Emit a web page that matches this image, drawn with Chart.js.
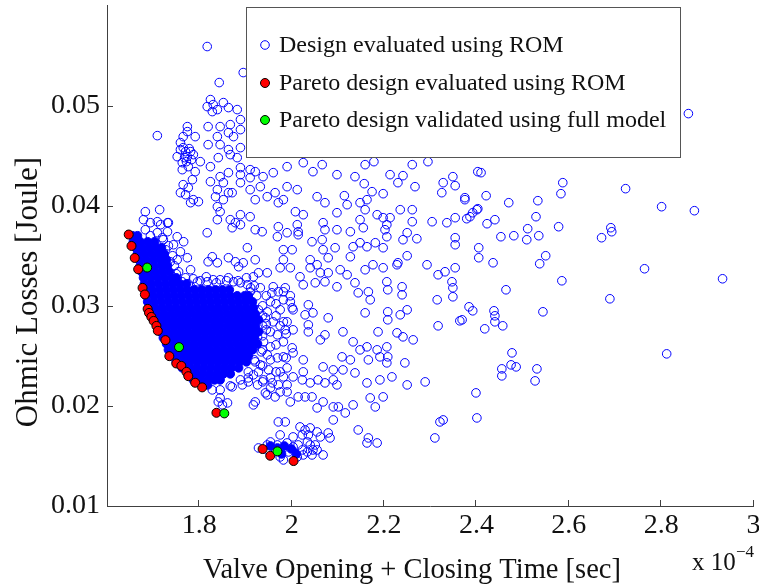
<!DOCTYPE html>
<html>
<head>
<meta charset="utf-8">
<script src="https://cdn.jsdelivr.net/npm/chart.js@4.4.1/dist/chart.umd.min.js"></script>
<style>
  html, body { margin: 0; padding: 0; background: #ffffff; }
  #wrap { width: 759px; height: 588px; }
</style>
</head>
<body>
<div id="wrap"><canvas id="chart" width="759" height="588"></canvas></div>
<script>
// Valve opening + closing time is given in units of 1e-4 s, ohmic losses in J.

const timeTicks = [1.8, 2.0, 2.2, 2.4, 2.6, 2.8, 3.0];
const timeTickLabels = ['1.8', '2', '2.2', '2.4', '2.6', '2.8', '3'];
const lossTicks = [0.01, 0.02, 0.03, 0.04, 0.05];
const lossTickLabels = ['0.01', '0.02', '0.03', '0.04', '0.05'];

const seriesLabels = [
  'Design evaluated using ROM',
  'Pareto design evaluated using ROM',
  'Pareto design validated using full model'
];

// ROM designs: upper-left group
const romUpper = [
  [1.817,0.0559],[1.843,0.0523],[1.895,0.0533],[1.709,0.0470],
  [1.824,0.0506],[1.830,0.0501],[1.817,0.0499],[1.839,0.0496],[1.828,0.0494],[1.852,0.0503],[1.863,0.0498],[1.882,0.0496],
  [1.889,0.0486],[1.867,0.0481],[1.845,0.0479],[1.819,0.0479],[1.774,0.0479],[1.774,0.0474],[1.791,0.0469],[1.765,0.0469],
  [1.839,0.0469],[1.863,0.0473],[1.874,0.0469],[1.889,0.0476],[1.845,0.0461],[1.819,0.0461],[1.863,0.0456],[1.889,0.0458],
  [1.867,0.0451],[1.882,0.0448],[1.841,0.0448],[1.802,0.0444],[1.824,0.0439],
  [1.759,0.0463],[1.765,0.0458],[1.752,0.0449],[1.781,0.0454],[1.787,0.0451],[1.774,0.0449],[1.763,0.0443],[1.776,0.0439],
  [1.791,0.0434],[1.763,0.0436],[1.785,0.0426],[1.765,0.0421],[1.776,0.0418],[1.759,0.0413],[1.770,0.0411],[1.787,0.0406],
  [1.781,0.0403],[1.798,0.0404],
  [1.770,0.0454],[1.778,0.0457],[1.768,0.0448],[1.783,0.0446],[1.772,0.0444],[1.759,0.0456],
  [1.824,0.0424],[1.845,0.0429],[1.863,0.0433],[1.889,0.0438],[1.889,0.0431],[1.910,0.0436],[1.910,0.0428],[1.921,0.0434],
  [1.938,0.0429],[1.960,0.0433],[1.990,0.0439],[2.025,0.0443],[2.046,0.0434],[2.066,0.0441],[2.098,0.0431],
  [1.839,0.0416],[1.852,0.0423],[1.863,0.0413],[1.871,0.0413],[1.835,0.0409],[1.852,0.0406],[1.839,0.0399],[1.845,0.0394],
  [1.839,0.0386],
  [1.889,0.0423],[1.910,0.0416],[1.932,0.0419],[1.921,0.0406],[1.947,0.0409],[1.964,0.0413],[1.990,0.0419],[2.012,0.0416],
  [1.982,0.0406],[1.971,0.0403],[2.008,0.0394],[2.025,0.0391],[2.055,0.0409],[2.072,0.0403],[2.098,0.0393],
  [1.683,0.0394],[1.714,0.0396],[1.694,0.0383],[1.716,0.0381],[1.731,0.0383],[1.889,0.0391],[1.910,0.0389],[1.867,0.0386]
];

// ROM designs: fringe of the main cloud
const romFringe = [
  [1.679,0.0386],[1.709,0.0384],[1.733,0.0383],[1.683,0.0376],[1.709,0.0373],[1.731,0.0374],[1.752,0.0369],[1.744,0.0361],
  [1.766,0.0364],[1.759,0.0354],[1.752,0.0346],[1.774,0.0348],[1.781,0.0336],[1.755,0.0334],[1.770,0.0328],[1.817,0.0373],
  [1.819,0.0344],[1.839,0.0343],[1.828,0.0349],[1.863,0.0348],[1.878,0.0344],[1.885,0.0339],[1.871,0.0378],[1.878,0.0383],
  [1.796,0.0324],[1.817,0.0324],[1.845,0.0326],[1.874,0.0324],[1.904,0.0321],[1.932,0.0318],[1.957,0.0313],[1.971,0.0314],
  [1.954,0.0304],[1.982,0.0306],[1.947,0.0294],[1.960,0.0284],[1.990,0.0284],[1.954,0.0274],[1.969,0.0271],[1.939,0.0264],
  [1.954,0.0259],[1.982,0.0264],[1.947,0.0251],[1.969,0.0248],[1.932,0.0241],[1.950,0.0236],[1.917,0.0231],[1.939,0.0226],
  [1.926,0.0221],[1.906,0.0224],[1.893,0.0221],[1.871,0.0219],[1.845,0.0216],[1.954,0.0218],[1.975,0.0214],[1.990,0.0221],
  [1.990,0.0238],[1.982,0.0229],[1.947,0.0211],[1.845,0.0208],
  [1.924,0.0310],[1.937,0.0300],[1.943,0.0288],[1.945,0.0276],[1.934,0.0254],[1.921,0.0244],[1.906,0.0234],[1.889,0.0226],
  [1.867,0.0220],[1.828,0.0216],[1.776,0.0322],[1.802,0.0325],[1.830,0.0326],[1.859,0.0325],[1.911,0.0318],[1.694,0.0370],
  [1.720,0.0368],[1.733,0.0360],[1.742,0.0350],[1.746,0.0340],[1.910,0.0314],[1.937,0.0280],[1.926,0.0269],
  [1.986,0.0318],[1.945,0.0310],[1.997,0.0310],[1.966,0.0302],[2.001,0.0298],[1.928,0.0296],[1.975,0.0296],[1.937,0.0290],
  [1.966,0.0290],[1.945,0.0282],[1.975,0.0280],[1.926,0.0278],[1.937,0.0270],[1.988,0.0272],[1.924,0.0261],[1.966,0.0261],
  [2.001,0.0258],[1.937,0.0256],[1.919,0.0246],[1.954,0.0246],[1.988,0.0248],[1.937,0.0240],[1.928,0.0234],[1.966,0.0234],
  [1.906,0.0228],[1.954,0.0228],[2.003,0.0229],
  [1.763,0.0324],[1.787,0.0327],[1.815,0.0329],[1.837,0.0323],[1.863,0.0328],[1.884,0.0325],[1.902,0.0328],[1.919,0.0320],
  [1.727,0.0356],[1.737,0.0344],[1.750,0.0332],[1.722,0.0366]
];

// ROM designs: middle spread
const romMiddle = [
  [2.159,0.0441],[2.178,0.0444],[2.137,0.0429],[2.213,0.0431],[2.241,0.0430],[2.261,0.0441],[2.295,0.0444],[2.267,0.0419],
  [2.230,0.0423],[2.157,0.0422],[2.198,0.0412],[2.328,0.0423],[2.325,0.0413],[2.349,0.0429],[2.354,0.0420],[2.375,0.0408],
  [2.403,0.0434],
  [2.114,0.0410],[2.120,0.0401],[2.148,0.0403],[2.163,0.0406],[2.159,0.0396],[2.174,0.0414],[2.185,0.0391],[2.198,0.0388],
  [2.213,0.0388],[2.235,0.0396],[2.261,0.0396],[2.148,0.0386],[2.206,0.0381],[2.304,0.0384],[2.336,0.0383],[2.354,0.0388],
  [2.386,0.0389],[2.401,0.0396],
  [1.889,0.0381],[1.921,0.0376],[1.936,0.0374],[1.971,0.0379],[2.012,0.0381],[2.014,0.0374],[2.068,0.0383],[2.072,0.0376],
  [2.098,0.0376],[2.127,0.0374],[2.155,0.0378],[2.202,0.0376],[2.206,0.0369],[2.250,0.0373],[2.261,0.0384],[2.271,0.0367],
  [2.241,0.0366],
  [1.969,0.0369],[1.990,0.0373],[2.014,0.0371],[2.044,0.0364],[2.066,0.0366],[2.068,0.0356],[2.094,0.0358],[2.133,0.0359],
  [2.148,0.0363],[2.163,0.0359],[2.181,0.0363],[2.198,0.0358],[2.127,0.0349],[2.079,0.0348],[2.040,0.0346],[2.055,0.0341],
  [1.982,0.0356],[2.001,0.0356],[1.982,0.0346],[1.904,0.0358],[1.895,0.0343],[1.921,0.0346],[2.230,0.0343],[2.250,0.0350],
  [2.293,0.0341],[2.354,0.0368],[2.354,0.0361],
  [1.975,0.0338],[1.997,0.0338],[2.040,0.0338],[2.062,0.0333],[2.079,0.0333],[2.105,0.0336],[2.120,0.0331],[2.159,0.0336],
  [2.176,0.0341],[2.198,0.0338],[2.228,0.0341],[1.889,0.0323],[1.917,0.0329],[1.928,0.0333],[1.947,0.0333],[2.018,0.0329],
  [2.025,0.0321],[2.051,0.0323],[2.072,0.0324],[2.098,0.0319],[2.137,0.0323],[2.144,0.0313],[2.166,0.0314],[2.170,0.0306],
  [2.206,0.0324],[2.208,0.0316],[2.239,0.0319],[2.239,0.0311],[2.317,0.0331],[2.332,0.0334],[2.354,0.0338],[2.347,0.0324],
  [2.349,0.0318],[2.349,0.0309],[2.315,0.0306],
  [1.960,0.0319],[1.982,0.0314],[1.997,0.0304],[2.003,0.0296],[2.036,0.0301],[2.046,0.0293],[2.029,0.0291],[2.079,0.0288],
  [2.036,0.0281],[1.982,0.0284],[1.986,0.0276],[2.003,0.0276],[2.036,0.0274],[2.062,0.0266],[2.072,0.0271],[2.111,0.0274],
  [2.133,0.0264],[2.159,0.0293],[2.187,0.0274],[2.208,0.0294],[2.235,0.0291],[2.250,0.0296],[2.208,0.0286],[2.228,0.0273],
  [2.241,0.0269],[2.263,0.0266],[2.317,0.0280],[2.364,0.0285],[2.163,0.0259],
  [2.206,0.0259],[2.208,0.0249],[2.185,0.0256],[2.191,0.0249],[2.148,0.0256],[2.166,0.0246],[2.127,0.0246],[2.109,0.0249],
  [2.111,0.0236],[2.090,0.0236],[2.068,0.0239],[2.025,0.0246],[2.025,0.0234],[2.003,0.0253],[1.982,0.0249],[1.975,0.0234],
  [2.023,0.0226],[2.040,0.0223],[2.057,0.0226],[2.072,0.0223],[2.090,0.0226],[2.098,0.0221],[2.137,0.0233],[2.163,0.0223],
  [2.191,0.0226],[2.217,0.0229],[2.250,0.0221],[2.289,0.0224],[2.245,0.0243],[2.206,0.0243],
  [1.937,0.0224],[1.958,0.0223],[1.971,0.0221],[1.943,0.0213],[1.964,0.0209],[1.990,0.0214],[1.997,0.0204],[2.014,0.0209],
  [2.029,0.0209],[2.044,0.0209],[2.068,0.0204],[2.055,0.0198],[2.090,0.0199],[2.101,0.0199],[2.116,0.0193],[2.133,0.0201],
  [2.170,0.0208],[2.181,0.0199],[2.198,0.0209],[1.921,0.0204],[1.917,0.0201],[2.321,0.0184],[2.328,0.0186]
];

// ROM designs: long-time tail
const romTail = [
  [2.859,0.0492],[2.410,0.0433],[2.587,0.0423],[2.583,0.0412],[2.723,0.0417],[2.375,0.0406],[2.421,0.0410],[2.470,0.0403],
  [2.533,0.0405],[2.801,0.0399],[2.872,0.0395],[2.403,0.0397],[2.392,0.0393],[2.379,0.0387],[2.423,0.0382],[2.440,0.0386],
  [2.529,0.0389],[2.511,0.0377],[2.578,0.0379],[2.691,0.0378],[2.693,0.0374],[2.671,0.0368],[2.453,0.0369],[2.481,0.0370],
  [2.509,0.0366],[2.535,0.0370],[2.405,0.0358],[2.405,0.0348],[2.436,0.0343],[2.550,0.0350],[2.537,0.0342],[2.764,0.0337],
  [2.933,0.0327],[2.585,0.0325],[2.464,0.0316],[2.689,0.0307],[2.384,0.0299],[2.392,0.0295],[2.369,0.0286],[2.438,0.0295],
  [2.440,0.0290],[2.440,0.0284],[2.457,0.0280],[2.418,0.0277],[2.544,0.0294],[2.477,0.0253],[2.455,0.0237],[2.455,0.0230],
  [2.475,0.0241],[2.486,0.0239],[2.531,0.0237],[2.527,0.0225],[2.812,0.0252],[2.399,0.0213],[2.401,0.0188]
];

// ROM designs: low-loss groups
const romLower = [
  [1.841,0.0204],[1.861,0.0203],[1.850,0.0201],
  [1.971,0.0184],[1.986,0.0184],[2.018,0.0179],[2.029,0.0176],[2.040,0.0178],[2.023,0.0171],[2.036,0.0171],[2.055,0.0174],
  [2.062,0.0169],[2.079,0.0173],[2.083,0.0168],[2.068,0.0151],[2.046,0.0156],[2.040,0.0161],[1.982,0.0146],[2.012,0.0149],
  [2.025,0.0151],[1.954,0.0164],[1.969,0.0161],[1.947,0.0161],[1.990,0.0163],[2.003,0.0159],[2.014,0.0161],[2.034,0.0164],
  [2.051,0.0161],[2.055,0.0156],[1.975,0.0149],[1.993,0.0154],[1.980,0.0157],[1.947,0.0156],[2.023,0.0156],[2.034,0.0154],
  [2.044,0.0151],[1.928,0.0158],[2.090,0.0186],[2.144,0.0176],[2.166,0.0168],[2.163,0.0163],[2.185,0.0163],[2.310,0.0168],
  [2.003,0.0169],[1.975,0.0171]
];

// ROM designs packed so tightly that their markers merge: [loss, [times...]]
const romDenseRows = [
  [0.0370, [1.655,1.666]],
  [0.0364, [1.657,1.672,1.688,1.703]],
  [0.0358, [1.662,1.677,1.692,1.707,1.718]],
  [0.0352, [1.666,1.681,1.696,1.711,1.724]],
  [0.0346, [1.670,1.685,1.701,1.716,1.729]],
  [0.0340, [1.672,1.688,1.703,1.718,1.731]],
  [0.0334, [1.675,1.690,1.705,1.720,1.735]],
  [0.0328, [1.679,1.694,1.709,1.724,1.740,1.750]],
  [0.0322, [1.681,1.696,1.711,1.727,1.742,1.757,1.772]],
  [0.0316, [1.683,1.698,1.714,1.729,1.744,1.759,1.774,1.789,1.805,1.820,1.835,1.850,1.865]],
  [0.0310, [1.685,1.701,1.716,1.731,1.746,1.761,1.776,1.792,1.807,1.822,1.837,1.852,1.867,1.882,1.898,1.906]],
  [0.0304, [1.688,1.703,1.718,1.733,1.748,1.763,1.779,1.794,1.809,1.824,1.839,1.854,1.869,1.885,1.900,1.915]],
  [0.0298, [1.690,1.705,1.720,1.735,1.750,1.766,1.781,1.796,1.811,1.826,1.841,1.856,1.872,1.887,1.902,1.917]],
  [0.0292, [1.694,1.709,1.724,1.740,1.755,1.770,1.785,1.800,1.815,1.831,1.845,1.861,1.876,1.891,1.906,1.921]],
  [0.0286, [1.701,1.716,1.731,1.746,1.761,1.776,1.792,1.807,1.822,1.837,1.852,1.867,1.882,1.898,1.913,1.928]],
  [0.0280, [1.709,1.724,1.740,1.755,1.770,1.785,1.800,1.815,1.831,1.845,1.861,1.876,1.891,1.906,1.921]],
  [0.0274, [1.716,1.731,1.746,1.761,1.776,1.792,1.807,1.822,1.837,1.852,1.867,1.882,1.898,1.913,1.928]],
  [0.0268, [1.722,1.737,1.753,1.768,1.783,1.798,1.813,1.828,1.843,1.859,1.874,1.889,1.904,1.919]],
  [0.0262, [1.729,1.744,1.759,1.774,1.789,1.805,1.820,1.835,1.850,1.865,1.880,1.895,1.911,1.926]],
  [0.0256, [1.733,1.748,1.763,1.779,1.794,1.809,1.824,1.839,1.854,1.869,1.885,1.900,1.915]],
  [0.0250, [1.740,1.755,1.770,1.785,1.800,1.815,1.831,1.845,1.861,1.876,1.891,1.906]],
  [0.0244, [1.750,1.766,1.781,1.796,1.811,1.826,1.841,1.856,1.872,1.887,1.902]],
  [0.0238, [1.763,1.779,1.794,1.809,1.824,1.839,1.854,1.869,1.885]],
  [0.0232, [1.776,1.792,1.807,1.822,1.837,1.852,1.867]],
  [0.0226, [1.787,1.802,1.818,1.833,1.845]],
  [0.0221, [1.805,1.818]],
  [0.0160, [1.954,1.984]],
  [0.0158, [1.969]],
  [0.0157, [1.999]],
  [0.0152, [1.978,2.010]]
];

// Pareto front from the ROM
const paretoRom = [
  [1.647,0.03712],[1.653,0.03598],[1.660,0.03478],[1.6675,0.03365],[1.677,0.03179],[1.682,0.03113],[1.688,0.02969],
  [1.691,0.02929],[1.696,0.02889],[1.701,0.02849],[1.707,0.02799],[1.710,0.02750],[1.7265,0.02657],[1.735,0.02497],
  [1.750,0.02424],[1.761,0.02400],[1.772,0.02340],[1.776,0.02297],[1.791,0.02231],[1.806,0.02185],[1.837,0.01931],
  [1.937,0.01569],[1.9535,0.01502],[2.004,0.01449]
];

// Pareto designs re-evaluated with the full model
const paretoFull = [
  [1.687,0.03382],[1.756,0.02587],[1.854,0.01925],[1.969,0.01546]
];

const BLUE = '#0000ff';
const AXIS = '#404040';
const SERIF = '"Liberation Serif", "Times New Roman", serif';

const toXY = (pairs) => pairs.map(([x, y]) => ({ x, y }));
const romPoints = toXY([].concat(romUpper, romFringe, romMiddle, romTail, romLower));
const densePoints = [];
romDenseRows.forEach(([loss, times]) => times.forEach(t => densePoints.push({ x: t, y: loss })));

// Inward tick marks on the left and bottom axes
const inwardTicks = {
  id: 'inwardTicks',
  afterDatasetsDraw(chart) {
    const { ctx, chartArea: a, scales: { x, y } } = chart;
    ctx.save();
    ctx.strokeStyle = AXIS;
    ctx.lineWidth = 1;
    ctx.beginPath();
    timeTicks.forEach(v => {
      const p = Math.round(x.getPixelForValue(v)) - 0.5;
      ctx.moveTo(p, a.bottom);
      ctx.lineTo(p, a.bottom - 6);
    });
    lossTicks.forEach(v => {
      const p = Math.round(y.getPixelForValue(v)) + 0.5;
      ctx.moveTo(a.left, p);
      ctx.lineTo(a.left + 6, p);
    });
    ctx.stroke();
    ctx.restore();
  }
};

// Boxed legend inside the plot, axis titles and the exponent note
const annotations = {
  id: 'annotations',
  afterDraw(chart) {
    const ctx = chart.ctx;
    ctx.save();

    // legend
    ctx.fillStyle = '#ffffff';
    ctx.fillRect(246, 7, 435, 151);
    ctx.strokeStyle = '#555555';
    ctx.lineWidth = 1;
    ctx.strokeRect(246.5, 7.5, 434, 150);
    const rows = [
      { ds: chart.data.datasets[0], y: 45 },
      { ds: chart.data.datasets[2], y: 83 },
      { ds: chart.data.datasets[3], y: 120 }
    ];
    ctx.font = '24px ' + SERIF;
    ctx.textAlign = 'left';
    ctx.textBaseline = 'alphabetic';
    rows.forEach(r => {
      ctx.beginPath();
      ctx.arc(265, r.y, r.ds.pointRadius, 0, Math.PI * 2);
      if (r.ds.pointBackgroundColor !== 'rgba(0,0,0,0)') {
        ctx.fillStyle = r.ds.pointBackgroundColor;
        ctx.fill();
      }
      ctx.lineWidth = 1;
      ctx.strokeStyle = r.ds.pointBorderColor;
      ctx.stroke();
      ctx.fillStyle = '#111111';
      ctx.fillText(r.ds.label, 279, r.y + 7);
    });

    // axis titles
    ctx.fillStyle = '#111111';
    ctx.font = '28.5px ' + SERIF;
    ctx.textAlign = 'center';
    ctx.fillText('Valve Opening + Closing Time [sec]', 412, 578);

    ctx.save();
    ctx.translate(37, 292);
    ctx.rotate(-Math.PI / 2);
    ctx.font = '31px ' + SERIF;
    ctx.fillText('Ohmic Losses [Joule]', 0, 0);
    ctx.restore();

    // exponent of the time axis
    ctx.textAlign = 'left';
    ctx.font = '25px ' + SERIF;
    ctx.fillText('x 10', 692, 570);
    ctx.font = '17px ' + SERIF;
    ctx.fillText('\u22124', 736, 557);

    ctx.restore();
  }
};

new Chart(document.getElementById('chart'), {
  type: 'scatter',
  data: {
    datasets: [
      {
        label: seriesLabels[0],
        data: romPoints,
        pointRadius: 4.3,
        pointBorderWidth: 1,
        pointBorderColor: BLUE,
        pointBackgroundColor: 'rgba(0,0,0,0)',
        order: 4
      },
      {
        label: seriesLabels[0],
        data: densePoints,
        pointRadius: 4.3,
        pointBorderWidth: 1,
        pointBorderColor: BLUE,
        pointBackgroundColor: BLUE,
        order: 3
      },
      {
        label: seriesLabels[1],
        data: toXY(paretoRom),
        pointRadius: 4.5,
        pointBorderWidth: 1,
        pointBorderColor: '#000000',
        pointBackgroundColor: '#ff0000',
        order: 2
      },
      {
        label: seriesLabels[2],
        data: toXY(paretoFull),
        pointRadius: 4.5,
        pointBorderWidth: 1,
        pointBorderColor: '#000000',
        pointBackgroundColor: '#00ff00',
        order: 1
      }
    ]
  },
  options: {
    responsive: false,
    animation: false,
    events: [],
    layout: { padding: { top: 5, right: 5, left: 0, bottom: 0 } },
    plugins: {
      legend: { display: false },
      tooltip: { enabled: false }
    },
    scales: {
      x: {
        type: 'linear',
        min: 1.6,
        max: 3.0,
        afterFit(scale) {
          scale.height = 82;
          scale.paddingLeft = 0;
          scale.paddingRight = 0;
        },
        afterBuildTicks(scale) { scale.ticks = timeTicks.map(value => ({ value })); },
        grid: { display: false, drawTicks: false },
        border: { display: true, color: AXIS, width: 1 },
        ticks: {
          autoSkip: false,
          maxRotation: 0,
          padding: 3,
          color: '#111111',
          font: { family: SERIF, size: 28 },
          callback: (value, index) => timeTickLabels[index]
        }
      },
      y: {
        type: 'linear',
        min: 0.01,
        max: 0.06,
        afterFit(scale) {
          scale.width = 107;
          scale.paddingTop = 0;
          scale.paddingBottom = 0;
        },
        afterBuildTicks(scale) { scale.ticks = lossTicks.map(value => ({ value })); },
        grid: { display: false, drawTicks: false },
        border: { display: true, color: AXIS, width: 1 },
        ticks: {
          autoSkip: false,
          padding: 7,
          color: '#111111',
          font: { family: SERIF, size: 28 },
          callback: (value, index) => lossTickLabels[index]
        }
      }
    }
  },
  plugins: [inwardTicks, annotations]
});
</script>
</body>
</html>
